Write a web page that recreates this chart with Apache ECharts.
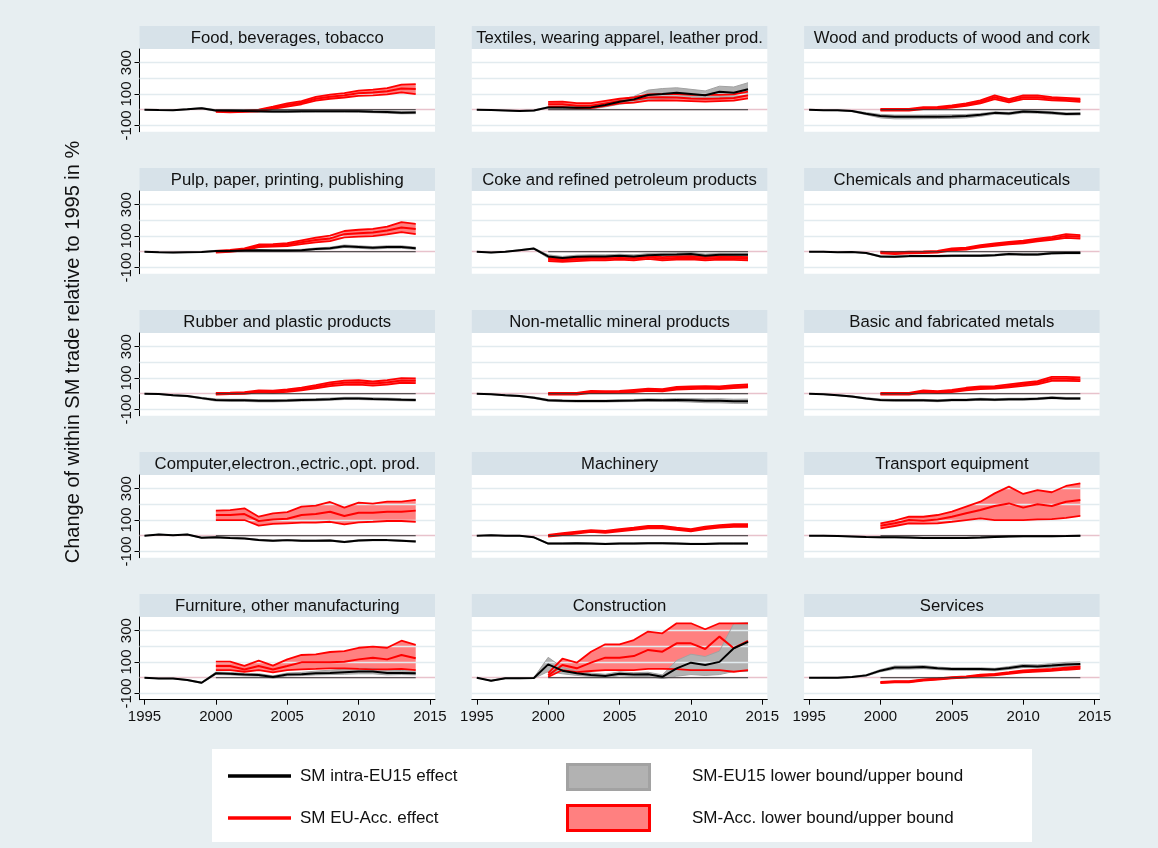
<!DOCTYPE html>
<html>
<head>
<meta charset="utf-8">
<script src="https://cdn.jsdelivr.net/npm/echarts@6/dist/echarts.min.js"></script>
<style>
  html, body { margin: 0; padding: 0; background: #e7eef1; }
  #chart { width: 1158px; height: 848px; }
</style>
</head>
<body>
<div id="chart"></div>
<script>
// ---- data -------------------------------------------------------------
const years = [1995, 1996, 1997, 1998, 1999, 2000, 2001, 2002, 2003, 2004,
               2005, 2006, 2007, 2008, 2009, 2010, 2011, 2012, 2013, 2014];
const accYears = [2000, 2001, 2002, 2003, 2004, 2005, 2006, 2007, 2008, 2009,
                  2010, 2011, 2012, 2013, 2014];
const xTicks = [1995, 2000, 2005, 2010, 2015];
const yTicks = [-100, 100, 300];
const gridLevels = [-100, 100, 200, 300];
const baseYears = [2000, 2014];

const sectors = [
  'Food, beverages, tobacco',
  'Textiles, wearing apparel, leather prod.',
  'Wood and products of wood and cork',
  'Pulp, paper, printing, publishing',
  'Coke and refined petroleum products',
  'Chemicals and pharmaceuticals',
  'Rubber and plastic products',
  'Non-metallic mineral products',
  'Basic and fabricated metals',
  'Computer,electron.,ectric.,opt. prod.',
  'Machinery',
  'Transport equipment',
  'Furniture, other manufacturing',
  'Construction',
  'Services'
];

// SM intra-EU15 effect, 1995-2014 (one row per sector, same order as above)
const eu15Effect = [
  [0, -2, -3, 3, 10, -5, -6, -8, -10, -12, -12, -10, -9, -9, -9, -10, -13, -15, -19, -18],
  [0, -2, -5, -8, -5, 15, 15, 12, 15, 30, 51, 66, 94, 100, 108, 100, 92, 115, 108, 130],
  [0, -3, -4, -8, -25, -40, -45, -45, -45, -44, -43, -40, -32, -20, -24, -12, -14, -20, -27, -26],
  [0, -3, -5, -3, -2, 5, 5, 8, 10, 8, 8, 10, 18, 22, 35, 30, 25, 30, 30, 22],
  [0, -5, 0, 10, 20, -30, -40, -32, -30, -30, -26, -30, -22, -20, -18, -15, -25, -20, -20, -20],
  [0, 0, -3, -2, -8, -30, -32, -28, -28, -28, -26, -25, -25, -22, -15, -18, -18, -10, -8, -8],
  [0, -2, -10, -15, -28, -40, -42, -42, -45, -45, -43, -40, -38, -35, -30, -30, -33, -35, -38, -40],
  [0, -3, -10, -15, -25, -42, -45, -47, -47, -47, -45, -43, -40, -42, -40, -42, -45, -45, -48, -48],
  [0, -3, -10, -18, -30, -40, -42, -42, -42, -45, -40, -40, -35, -38, -35, -35, -32, -25, -30, -30],
  [0, 8, 3, 8, -13, -10, -15, -17, -27, -32, -28, -32, -32, -30, -40, -30, -28, -28, -32, -36],
  [0, 3, 0, 0, -10, -50, -50, -48, -50, -52, -50, -50, -48, -48, -50, -52, -52, -50, -50, -50],
  [0, 0, -2, -5, -8, -10, -10, -12, -15, -15, -15, -14, -12, -8, -5, -3, -3, -3, -2, 0],
  [0, -5, -5, -15, -32, 28, 26, 20, 18, 5, 20, 22, 28, 30, 35, 40, 40, 30, 30, 28],
  [0, -19, -3, -3, -2, 85, 45, 28, 18, 11, 25, 20, 22, 6, 60, 96, 81, 101, 188, 228],
  [0, 0, 0, 5, 15, 45, 65, 65, 68, 60, 55, 55, 55, 52, 62, 75, 72, 78, 85, 88]
];

// SM-EU15 lower bound, 1995-2014
const eu15Lower = [
  [0, -4, -5, 0, 6, -10, -12, -14, -16, -18, -18, -16, -15, -15, -15, -16, -19, -22, -26, -25],
  [0, -4, -7, -10, -8, 10, 8, 5, 5, 18, 35, 45, 65, 70, 75, 70, 65, 80, 75, 90],
  [0, -5, -6, -12, -32, -52, -58, -58, -57, -56, -55, -52, -42, -28, -32, -20, -22, -28, -34, -33],
  [0, -5, -7, -5, -4, 1, 1, 4, 5, 3, 3, 5, 12, 15, 27, 22, 17, 22, 22, 15],
  [0, -7, -2, 7, 16, -40, -50, -42, -40, -40, -36, -40, -32, -30, -28, -25, -35, -30, -30, -30],
  [0, -2, -5, -4, -11, -35, -37, -33, -33, -33, -31, -30, -30, -27, -20, -23, -23, -15, -13, -13],
  [0, -4, -13, -19, -33, -47, -49, -49, -52, -52, -50, -47, -45, -42, -37, -37, -40, -42, -45, -47],
  [0, -5, -13, -19, -30, -48, -51, -53, -53, -53, -51, -50, -48, -50, -50, -53, -57, -58, -61, -62],
  [0, -5, -13, -22, -35, -46, -48, -48, -48, -51, -46, -46, -41, -44, -41, -41, -38, -31, -36, -36],
  [0, 6, 1, 6, -16, -13, -18, -20, -31, -36, -32, -36, -36, -34, -44, -34, -32, -32, -36, -40],
  [0, 1, -2, -2, -13, -54, -54, -52, -54, -56, -54, -54, -52, -52, -54, -56, -56, -54, -54, -54],
  [0, -2, -4, -7, -11, -13, -13, -15, -18, -18, -18, -17, -15, -11, -8, -6, -6, -6, -5, -3],
  [0, -7, -7, -18, -36, 20, 18, 12, 10, -2, 12, 14, 18, 20, 22, 25, 25, 18, 20, 18],
  [0, -22, -6, -6, -5, 40, 25, 15, 8, 2, 12, 8, 8, -5, 10, 20, 15, 20, 40, 40],
  [0, -2, -2, 2, 10, 38, 55, 55, 58, 52, 47, 47, 47, 44, 53, 65, 62, 66, 72, 75]
];

// SM-EU15 upper bound, 1995-2014
const eu15Upper = [
  [0, 0, -1, 6, 14, 0, 0, -2, -4, -6, -6, -4, -3, -3, -3, -4, -7, -8, -12, -11],
  [0, 0, -3, -6, -2, 20, 22, 20, 25, 42, 65, 85, 125, 135, 140, 130, 120, 150, 145, 172],
  [0, -1, -2, -5, -18, -30, -34, -34, -34, -33, -32, -30, -24, -14, -17, -6, -8, -13, -20, -19],
  [0, -1, -3, -1, 0, 9, 9, 12, 15, 13, 13, 15, 24, 29, 43, 38, 33, 38, 38, 29],
  [0, -3, 2, 13, 24, -20, -30, -22, -20, -20, -16, -20, -12, -10, -8, -5, -15, -10, -10, -10],
  [0, 2, -1, 0, -5, -25, -27, -23, -23, -23, -21, -20, -20, -17, -10, -13, -13, -5, -3, -3],
  [0, 0, -7, -11, -23, -33, -35, -35, -38, -38, -36, -33, -31, -28, -23, -23, -26, -28, -31, -33],
  [0, -1, -7, -11, -20, -36, -39, -41, -41, -41, -39, -36, -32, -34, -30, -31, -33, -32, -35, -34],
  [0, -1, -7, -14, -25, -34, -36, -36, -36, -39, -34, -34, -29, -32, -29, -29, -26, -19, -24, -24],
  [0, 10, 5, 10, -10, -7, -12, -14, -23, -28, -24, -28, -28, -26, -36, -26, -24, -24, -28, -32],
  [0, 5, 2, 2, -7, -46, -46, -44, -46, -48, -46, -46, -44, -44, -46, -48, -48, -46, -46, -46],
  [0, 2, 0, -3, -5, -7, -7, -9, -12, -12, -12, -11, -9, -5, -2, 0, 0, 0, 1, 3],
  [0, -3, -3, -12, -28, 36, 34, 28, 26, 12, 30, 34, 42, 48, 55, 60, 60, 48, 46, 42],
  [0, -16, 0, 0, 1, 130, 65, 42, 30, 22, 38, 32, 35, 18, 110, 150, 135, 170, 345, 350],
  [0, 2, 2, 8, 20, 52, 75, 75, 78, 68, 63, 63, 63, 60, 71, 85, 82, 90, 98, 101]
];

// SM EU-Acc. effect, 2000-2014
const accEffect = [
  [-10, -12, -10, -5, 12, 30, 45, 70, 83, 92, 105, 110, 118, 135, 132],
  [35, 35, 25, 25, 40, 55, 62, 78, 80, 78, 72, 70, 72, 75, 92],
  [0, 0, 0, 10, 12, 20, 32, 50, 80, 57, 80, 80, 70, 66, 60],
  [0, 5, 15, 38, 40, 45, 60, 75, 85, 112, 118, 122, 135, 155, 145],
  [-50, -55, -50, -45, -45, -40, -45, -35, -45, -40, -38, -45, -40, -42, -45],
  [-5, -10, -5, -3, 0, 15, 20, 35, 45, 55, 62, 75, 85, 100, 95],
  [0, 2, 5, 15, 12, 20, 30, 45, 60, 70, 72, 65, 72, 85, 82],
  [0, 0, 0, 12, 10, 12, 18, 25, 22, 35, 38, 40, 38, 45, 50],
  [0, 0, 0, 15, 10, 18, 30, 38, 40, 50, 60, 70, 95, 95, 92],
  [132, 132, 138, 94, 104, 108, 132, 138, 153, 126, 147, 147, 153, 153, 160],
  [0, 10, 20, 30, 25, 35, 45, 55, 55, 45, 35, 50, 60, 65, 65],
  [64, 79, 100, 96, 104, 121, 143, 164, 189, 206, 179, 200, 189, 217, 228],
  [75, 75, 53, 75, 53, 75, 98, 98, 98, 102, 117, 128, 117, 145, 124],
  [15, 81, 60, 96, 128, 128, 138, 177, 166, 219, 219, 183, 262, 188, 234],
  [-30, -25, -25, -15, -8, 0, 5, 15, 20, 30, 40, 45, 50, 58, 65]
];

// SM-Acc. lower bound, 2000-2014
const accLower = [
  [-14, -16, -14, -10, 5, 20, 35, 58, 70, 78, 88, 92, 98, 110, 100],
  [18, 18, 10, 10, 25, 40, 45, 58, 60, 58, 55, 52, 55, 58, 73],
  [-6, -6, -6, 4, 6, 13, 24, 40, 68, 47, 68, 68, 60, 56, 50],
  [-6, -1, 8, 30, 32, 36, 48, 60, 68, 92, 96, 100, 110, 125, 112],
  [-60, -65, -60, -55, -55, -50, -55, -45, -55, -50, -48, -55, -50, -52, -55],
  [-10, -15, -10, -8, -5, 9, 14, 28, 37, 47, 54, 66, 75, 88, 84],
  [-5, -3, 0, 8, 5, 12, 21, 35, 48, 56, 58, 52, 58, 70, 67],
  [-5, -5, -5, 6, 4, 6, 11, 18, 15, 27, 30, 32, 30, 36, 40],
  [-5, -5, -5, 9, 4, 11, 22, 30, 32, 41, 50, 60, 82, 82, 80],
  [100, 100, 100, 64, 75, 79, 83, 83, 89, 73, 85, 89, 94, 94, 89],
  [-5, 4, 14, 24, 19, 28, 38, 47, 47, 38, 28, 42, 52, 56, 56],
  [47, 62, 79, 77, 79, 89, 100, 110, 100, 100, 100, 104, 106, 114, 126],
  [49, 49, 38, 49, 34, 49, 53, 56, 60, 60, 56, 53, 53, 56, 49],
  [5, 49, 36, 43, 49, 49, 49, 57, 57, 55, 49, 49, 49, 38, 49],
  [-34, -29, -29, -19, -12, -4, 1, 10, 15, 25, 34, 39, 44, 51, 57]
];

// SM-Acc. upper bound, 2000-2014
const accUpper = [
  [-6, -8, -6, 0, 19, 40, 55, 82, 96, 106, 122, 128, 138, 160, 163],
  [50, 52, 42, 42, 57, 70, 78, 98, 100, 100, 95, 95, 95, 98, 115],
  [6, 6, 6, 16, 18, 27, 40, 60, 92, 67, 92, 92, 80, 76, 70],
  [6, 11, 22, 46, 48, 54, 72, 90, 102, 132, 140, 145, 160, 188, 178],
  [-40, -45, -40, -35, -35, -30, -35, -25, -35, -30, -28, -35, -30, -32, -35],
  [0, -5, 0, 2, 5, 21, 26, 42, 53, 63, 70, 84, 95, 112, 106],
  [5, 7, 10, 22, 19, 28, 39, 55, 72, 84, 86, 78, 86, 100, 97],
  [5, 5, 5, 18, 16, 18, 25, 32, 29, 43, 46, 48, 46, 54, 60],
  [5, 5, 5, 21, 16, 25, 38, 46, 48, 59, 70, 80, 108, 108, 104],
  [160, 163, 175, 121, 143, 151, 185, 192, 215, 179, 211, 204, 217, 217, 228],
  [5, 16, 26, 36, 31, 42, 52, 63, 63, 52, 42, 58, 68, 74, 74],
  [79, 96, 121, 121, 132, 153, 185, 217, 270, 313, 266, 291, 277, 317, 334],
  [102, 102, 75, 109, 77, 117, 145, 149, 164, 170, 191, 198, 191, 236, 209],
  [30, 121, 96, 166, 213, 213, 240, 294, 283, 347, 347, 309, 347, 347, 347],
  [-26, -21, -21, -11, -4, 4, 9, 20, 25, 35, 46, 51, 56, 65, 73]
];

// ---- layout & style ---------------------------------------------------
const FONT = '"Liberation Sans", Arial, Helvetica, sans-serif';
const COL_LEFT = [139.5, 471.8, 804.1];
const PLOT_W = 295.5;
const STRIP_TOP = 26;
const STRIP_H = 23;
const ROW_STEP = 142;
const PLOT_H = 82.7;
const Y_MIN = -140, Y_MAX = 387;
const X_MIN = 1994.65, X_MAX = 2015.35;

const RED = '#ff0000';
const RED_FILL = '#ff8080';
const GREY_FILL = '#b2b2b2';
const GREY_LINE = '#a2a2a2';
const STRIP_BG = '#d7e2e9';
const GRID_LINE = '#e2ebef';
const ZERO_LINE = '#e8c2cc';

const pairs = (xs, vs) => xs.map((x, k) => [x, vs[k]]);

// a filled band between a lower and an upper series, projected through the panel's axes
function bandSeries(i, xs, lo, hi, fill, z) {
  const rows = xs.map((x, k) => [x, lo[k], hi[k]]);
  return {
    type: 'custom', xAxisIndex: i, yAxisIndex: i, z: z, silent: true, animation: false,
    data: rows,
    encode: { x: 0, y: [1, 2] },
    renderItem: function (params, api) {
      if (params.dataIndex !== 0) return null;
      const lower = rows.map(r => api.coord([r[0], r[1]]));
      const upper = rows.map(r => api.coord([r[0], r[2]])).reverse();
      return {
        type: 'polygon',
        shape: { points: lower.concat(upper) },
        style: { fill: fill, stroke: null }
      };
    }
  };
}

const grids = [], xAxes = [], yAxes = [], series = [], graphics = [];

sectors.forEach((name, i) => {
  const r = Math.floor(i / 3), c = i % 3;
  const left = COL_LEFT[c];
  const stripTop = STRIP_TOP + r * ROW_STEP;
  const bottomRow = r === 4;
  const firstCol = c === 0;

  grids.push({
    left: left, top: stripTop + STRIP_H, width: PLOT_W, height: PLOT_H,
    show: true, backgroundColor: '#ffffff', borderWidth: 0, containLabel: false
  });

  xAxes.push({
    gridIndex: i, type: 'value', min: X_MIN, max: X_MAX,
    splitLine: { show: false },
    axisLine: { show: bottomRow, onZero: false, lineStyle: { color: '#000', width: 1 } },
    axisTick: { show: bottomRow, length: 5, customValues: xTicks, lineStyle: { color: '#000' } },
    axisLabel: {
      show: bottomRow, customValues: xTicks, fontSize: 15, fontFamily: FONT,
      color: '#111', margin: 10, formatter: v => String(v)
    }
  });

  yAxes.push({
    gridIndex: i, type: 'value', min: Y_MIN, max: Y_MAX,
    splitLine: { show: false },
    axisLine: { show: firstCol, onZero: false, lineStyle: { color: '#000', width: 1 } },
    axisTick: { show: firstCol, length: 5, customValues: yTicks, lineStyle: { color: '#000' } },
    axisLabel: {
      show: firstCol, customValues: yTicks, rotate: 90, fontSize: 15, fontFamily: FONT,
      color: '#111', margin: 5, formatter: v => String(v)
    }
  });

  const ax = { xAxisIndex: i, yAxisIndex: i };
  const plain = { symbol: 'none', silent: true, animation: false };

  // horizontal grid lines and the zero reference line
  series.push(Object.assign({
    type: 'line', data: [], z: 1,
    markLine: {
      silent: true, symbol: 'none', label: { show: false }, animation: false,
      data: gridLevels.map(v => ({ yAxis: v, lineStyle: { color: GRID_LINE, width: 1.3, type: 'solid' } }))
        .concat([{ yAxis: 0, lineStyle: { color: ZERO_LINE, width: 1.3, type: 'solid' } }])
    }
  }, ax, plain));

  // filled bands
  series.push(bandSeries(i, accYears, accLower[i], accUpper[i], RED_FILL, 3));
  series.push(bandSeries(i, years, eu15Lower[i], eu15Upper[i], GREY_FILL, 4));

  // band outlines
  [eu15Lower[i], eu15Upper[i]].forEach(vs => series.push(Object.assign({
    type: 'line', z: 5, data: pairs(years, vs), lineStyle: { color: GREY_LINE, width: 1 }
  }, ax, plain)));
  [accLower[i], accUpper[i]].forEach(vs => series.push(Object.assign({
    type: 'line', z: 6, data: pairs(accYears, vs), lineStyle: { color: RED, width: 1.8 }
  }, ax, plain)));

  // effects
  series.push(Object.assign({
    type: 'line', z: 7, data: pairs(accYears, accEffect[i]), lineStyle: { color: RED, width: 2 }
  }, ax, plain));
  series.push(Object.assign({
    type: 'line', z: 7, data: baseYears.map(y => [y, 0]), lineStyle: { color: '#333', width: 1 }
  }, ax, plain));
  series.push(Object.assign({
    type: 'line', z: 8, data: pairs(years, eu15Effect[i]), lineStyle: { color: '#000', width: 2 }
  }, ax, plain));

  // panel title strip
  graphics.push({
    type: 'rect', silent: true,
    shape: { x: left, y: stripTop, width: PLOT_W, height: STRIP_H },
    style: { fill: STRIP_BG }
  });
  graphics.push({
    type: 'text', silent: true, x: left + PLOT_W / 2, y: stripTop + STRIP_H / 2 + 0.5,
    style: { text: name, fontSize: 16.7, fontFamily: FONT, fill: '#111', align: 'center', verticalAlign: 'middle' }
  });
});

// y-axis title
graphics.push({
  type: 'text', silent: true, x: 73, y: 352, rotation: Math.PI / 2,
  style: {
    text: 'Change of within SM trade relative to 1995 in %', fontSize: 20, fontFamily: FONT,
    fill: '#111', align: 'center', verticalAlign: 'middle'
  }
});

// legend
const LEG_FONT = 17;
graphics.push(
  { type: 'rect', silent: true, shape: { x: 212, y: 749, width: 820, height: 93 }, style: { fill: '#ffffff' } },
  { type: 'line', silent: true, shape: { x1: 228, y1: 776, x2: 291, y2: 776 }, style: { stroke: '#000', lineWidth: 3.5 } },
  { type: 'line', silent: true, shape: { x1: 228, y1: 818, x2: 291, y2: 818 }, style: { stroke: RED, lineWidth: 3.5 } },
  { type: 'rect', silent: true, shape: { x: 567.5, y: 764.5, width: 82, height: 25 }, style: { fill: GREY_FILL, stroke: GREY_LINE, lineWidth: 3 } },
  { type: 'rect', silent: true, shape: { x: 567.5, y: 805.5, width: 82, height: 25 }, style: { fill: RED_FILL, stroke: RED, lineWidth: 3 } },
  { type: 'text', silent: true, x: 300, y: 776, style: { text: 'SM intra-EU15 effect', fontSize: LEG_FONT, fontFamily: FONT, fill: '#111', verticalAlign: 'middle' } },
  { type: 'text', silent: true, x: 300, y: 818, style: { text: 'SM EU-Acc. effect', fontSize: LEG_FONT, fontFamily: FONT, fill: '#111', verticalAlign: 'middle' } },
  { type: 'text', silent: true, x: 692, y: 776, style: { text: 'SM-EU15 lower bound/upper bound', fontSize: LEG_FONT, fontFamily: FONT, fill: '#111', verticalAlign: 'middle' } },
  { type: 'text', silent: true, x: 692, y: 818, style: { text: 'SM-Acc. lower bound/upper bound', fontSize: LEG_FONT, fontFamily: FONT, fill: '#111', verticalAlign: 'middle' } }
);

const chart = echarts.init(document.getElementById('chart'), null, { renderer: 'canvas' });
chart.setOption({
  backgroundColor: '#e7eef1',
  animation: false,
  grid: grids,
  xAxis: xAxes,
  yAxis: yAxes,
  series: series,
  graphic: graphics
});
</script>
</body>
</html>
